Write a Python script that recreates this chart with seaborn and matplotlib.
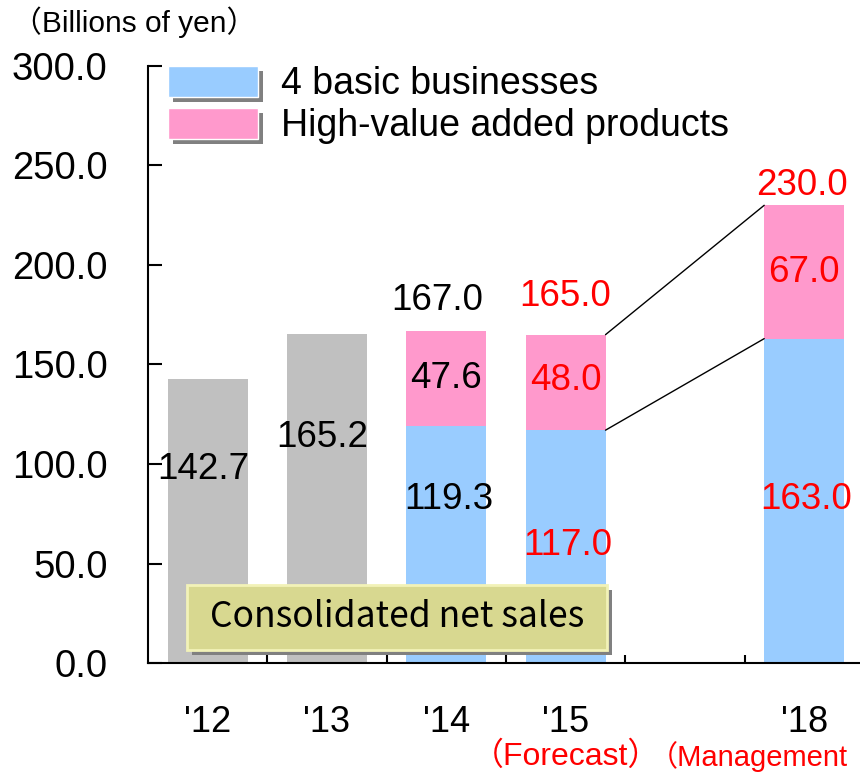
import matplotlib
matplotlib.use('Agg')
import matplotlib.pyplot as plt
import seaborn as sns
import pandas as pd
from matplotlib.patches import Patch, Rectangle
from matplotlib import patheffects as pe
from matplotlib.transforms import blended_transform_factory

# data
years = ["'12", "'13", "'14", "'15", "'18"]
total = [142.7, 165.2, 166.9, 165.0, 230.0]
basic = [None, None, 119.3, 117.0, 163.0]
high_value = [None, None, 47.6, 48.0, 67.0]
total_text = ["142.7", "165.2", "167.0", "165.0", "230.0"]
note_15 = "（Forecast）"
note_18 = "（Management"

GRAY = '#C0C0C0'
BLUE = '#99CCFF'
PINK = '#FF99CC'
RED = '#FF0000'
W = 0.67

order = years[:4] + [' '] + years[4:]   # empty slot between '15 and '18
pos = {y: order.index(y) for y in years}

sns.set_style('white')
plt.rcParams['font.family'] = ['Liberation Sans', 'Noto Sans CJK JP']
plt.rcParams['text.color'] = 'black'
plt.rcParams['xtick.color'] = 'black'
plt.rcParams['ytick.color'] = 'black'

fig = plt.figure(figsize=(8.6, 7.75), dpi=100)
ax = fig.add_axes([148/860, 112/775, 712/860, 597/775])

df = pd.DataFrame({'year': years, 'total': total, 'basic': basic})
pal = {"'12": GRAY, "'13": GRAY, "'14": PINK, "'15": PINK, "'18": PINK}
# totals (gray for '12/'13, pink for the rest), blue base on top
sns.barplot(data=df, x='year', y='total', hue='year', order=order, palette=pal,
            width=W, saturation=1, errorbar=None, legend=False, linewidth=0, ax=ax)
sns.barplot(data=df.dropna(), x='year', y='basic', order=order, color=BLUE,
            width=W, saturation=1, errorbar=None, linewidth=0, ax=ax)

ax.set_xlim(-0.5, 5.468)
ax.set_ylim(0, 300)
ax.set_xlabel('')
ax.set_ylabel('')

# axes look
for s in ['top', 'right']:
    ax.spines[s].set_visible(False)
for s in ['left', 'bottom']:
    ax.spines[s].set_color('black')
    ax.spines[s].set_linewidth(1.5)

ax.set_yticks(range(0, 301, 50))
ax.set_yticklabels([f'{v:.1f}' for v in range(0, 301, 50)])
ax.tick_params(axis='y', left=True, direction='in', length=10, width=1.5,
               pad=29, labelsize=27.5)
ax.set_xticks([pos[y] for y in years])
ax.set_xticklabels(years)
ax.tick_params(axis='x', which='major', length=0, pad=30, labelsize=26)
ax.set_xticks([i + 0.5 for i in range(5)], minor=True)
ax.tick_params(axis='x', which='minor', bottom=True, direction='in', length=6, width=1.5)

# value labels
tot_y = [97, 113.5, 182, 184, 240]
tot_dx = [-0.04, -0.04, -0.08, 0.0, -0.02]
high_y = [None, None, 143, 142, 196]
basic_y = [None, None, 82, 59, 82]
for i, yr in enumerate(years):
    c = RED if yr in ("'15", "'18") else 'black'
    x = pos[yr]
    ax.text(x + tot_dx[i], tot_y[i], total_text[i], ha='center', va='center',
            fontsize=26.5, color=c, zorder=6)
    if high_value[i] is not None:
        ax.text(x, high_y[i], f'{high_value[i]:.1f}', ha='center', va='center',
                fontsize=26.5, color=c, zorder=6)
        ax.text(x + 0.02, basic_y[i], f'{basic[i]:.1f}', ha='center', va='center',
                fontsize=26.5, color=c, zorder=6)

# connector lines '15 -> '18
ax.plot([pos["'15"] + W/2, pos["'18"] - W/2], [total[3], total[4]], color='black', lw=1, zorder=4)
ax.plot([pos["'15"] + W/2, pos["'18"] - W/2], [basic[3], basic[4]], color='black', lw=1, zorder=4)

# legend with shadowed swatches
shadow = [pe.SimplePatchShadow(offset=(3.6, -3.6), shadow_rgbFace='#808080', alpha=1), pe.Normal()]
handles = [Patch(facecolor=BLUE, path_effects=shadow, label='4 basic businesses'),
           Patch(facecolor=PINK, path_effects=shadow, label='High-value added products')]
ax.legend(handles=handles, loc='upper left', bbox_to_anchor=(0.028, 1.0), frameon=False,
          fontsize=27, handlelength=2.4, handleheight=0.9, handletextpad=0.62,
          labelspacing=0.14, borderpad=0, borderaxespad=0)

# "Consolidated net sales" box
box = Rectangle((0.0548, 0.0218), 0.59, 0.109, transform=ax.transAxes, facecolor='#D8D890',
                edgecolor='#F2F2B8', lw=2, zorder=7, path_effects=shadow)
ax.add_patch(box)
ax.text(0.0548 + 0.295, 0.0218 + 0.0545, 'Consolidated net sales', transform=ax.transAxes,
        ha='center', va='center', fontsize=25.5, family='Noto Sans CJK JP', zorder=8)

# notes under the x labels
tr = blended_transform_factory(ax.transData, ax.transAxes)
ax.text(pos["'15"], -0.157, note_15, transform=tr, ha='center', va='center', fontsize=23, color=RED)
ax.text(3.70, -0.157, note_18, transform=tr, ha='left', va='center', fontsize=21, color=RED)

fig.text(12/860, 1 - 22/775, '（Billions of yen）', ha='left', va='center', fontsize=21.5)

plt.savefig('out.png', dpi=100)
